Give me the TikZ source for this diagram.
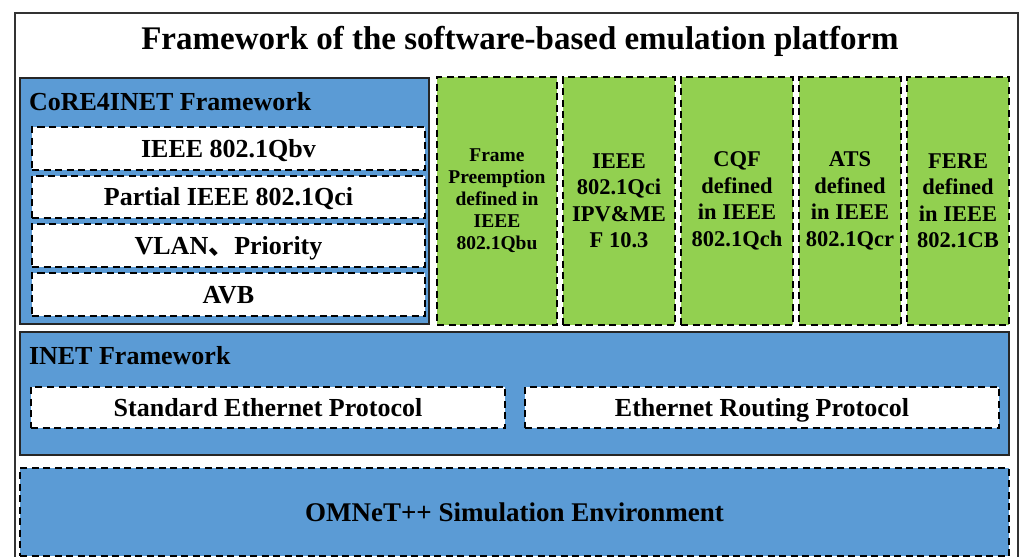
\documentclass[tikz,border=0pt]{standalone}
\usepackage{fontspec}
\setmainfont{Liberation Serif}
\newfontfamily\cjk{Noto Sans CJK SC}
\definecolor{cblue}{HTML}{5B9BD5}
\definecolor{cgreen}{HTML}{92D050}
\begin{document}
\begin{tikzpicture}[x=1pt,y=-1pt,
  every node/.style={inner sep=0pt, outer sep=0pt},
  dsh/.style={line width=1.4pt, dash pattern=on 7pt off 4.5pt},
  bluebox/.style={draw=black!85, line width=1.3pt, fill=cblue, anchor=north west},
  wbox/.style={draw=black, dsh, fill=white, anchor=north west, text height=17pt, text depth=0pt, font=\fontsize{26}{28}\selectfont\bfseries},
  gbox/.style={draw=black, dsh, fill=cgreen, anchor=north west, align=center, minimum height=248},
  gtext/.style={font=\fontsize{22.5}{26.5}\selectfont\bfseries},
  hdr/.style={anchor=base west, font=\fontsize{26}{28}\selectfont\bfseries},
]
\useasboundingbox (0,0) rectangle (1023,557);
% outer frame
\draw[line width=1.2pt, black!80] (15,600) -- (15,13) -- (1018,13) -- (1018,600);
\node[font=\fontsize{33}{36}\selectfont\bfseries] (title) at (520,41) {Framework of the software-based emulation platform};

% CoRE4INET
\node[bluebox, minimum width=409, minimum height=246] (core) at (20,78) {};
\node[hdr] (corelbl) at (29,110) {CoRE4INET Framework};
\node[wbox, minimum width=393, minimum height=43] (qbv) at (32,127) {IEEE 802.1Qbv};
\node[wbox, minimum width=393, minimum height=42] (qci) at (32,176) {Partial IEEE 802.1Qci};
\node[wbox, minimum width=393, minimum height=43] (vlan) at (32,224) {VLAN{\cjk\bfseries 、}Priority};
\node[wbox, minimum width=393, minimum height=43] (avb) at (32,273) {AVB};

% green boxes
\node[gbox, minimum width=120, font=\fontsize{19.5}{22}\selectfont\bfseries] (fp) at (437,77) {Frame\\Preemption\\defined in\\IEEE\\802.1Qbu};
\node[gbox, gtext, minimum width=112] (psfp) at (563,77) {IEEE\\802.1Qci\\IPV\&ME\\F 10.3};
\node[gbox, gtext, minimum width=112] (cqf) at (681,77) {CQF\\defined\\in IEEE\\802.1Qch};
\node[gbox, gtext, minimum width=102] (ats) at (799,77) {ATS\\defined\\in IEEE\\802.1Qcr};
\node[gbox, gtext, minimum width=102] (frer) at (907,77) {FERE\\defined\\in IEEE\\802.1CB};

% INET
\node[bluebox, minimum width=989, minimum height=123] (inet) at (20,332) {};
\node[hdr] (inetlbl) at (29,364) {INET Framework};
\node[wbox, minimum width=474, minimum height=41] (std) at (31,387) {Standard Ethernet Protocol};
\node[wbox, minimum width=474, minimum height=41] (route) at (525,387) {Ethernet Routing Protocol};

% OMNeT++
\node[draw=black, dsh, fill=cblue, anchor=north west, minimum width=989, minimum height=88,
      text height=18pt, text depth=0pt,
      font=\fontsize{27}{29}\selectfont\bfseries] (omnet) at (20,468) {OMNeT++ Simulation Environment};
\end{tikzpicture}
\end{document}
